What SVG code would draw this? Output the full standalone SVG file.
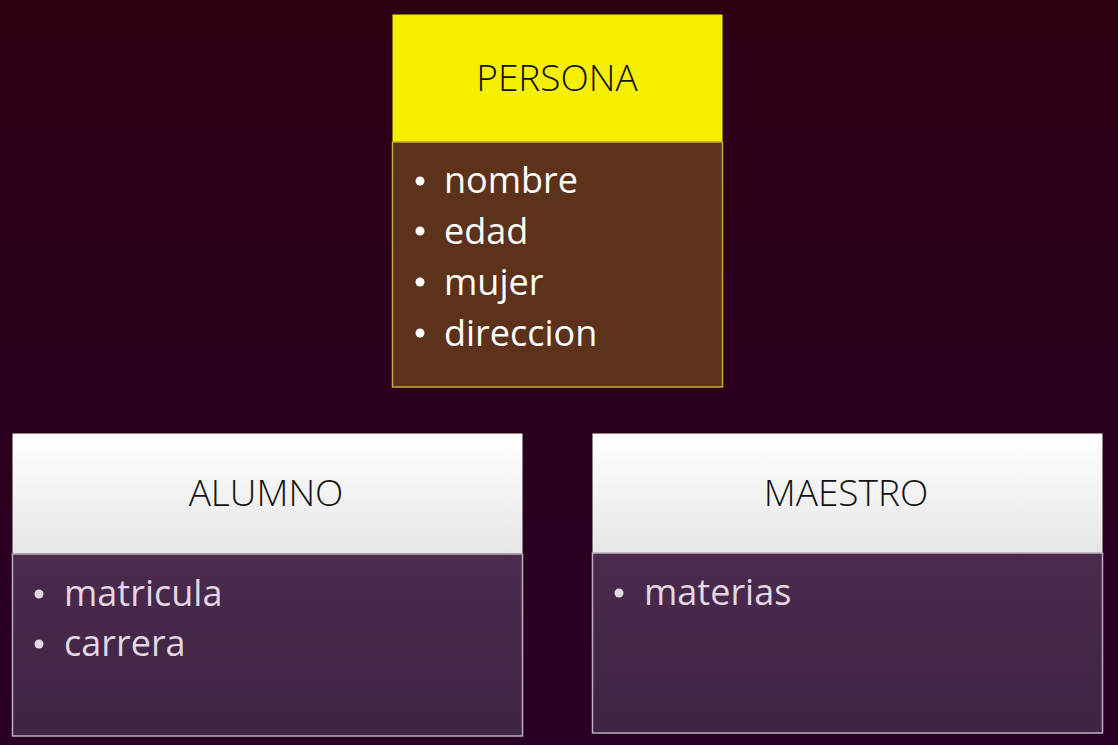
<svg xmlns="http://www.w3.org/2000/svg" width="1118" height="745" viewBox="0 0 1118 745">
<defs>
<linearGradient id="bg" x1="0" y1="0" x2="0" y2="1">
<stop offset="0" stop-color="#2c0012"/>
<stop offset="1" stop-color="#2a0026"/>
</linearGradient>
<linearGradient id="hdr" x1="0" y1="0" x2="0" y2="1">
<stop offset="0" stop-color="#ffffff"/>
<stop offset="1" stop-color="#e6e6e6"/>
</linearGradient>
<linearGradient id="body" x1="0" y1="0" x2="0" y2="1">
<stop offset="0" stop-color="#4b2a4d"/>
<stop offset="1" stop-color="#3f2444"/>
</linearGradient>
<style>
.title{font-family:"Open Sans","Noto Sans","Liberation Sans",sans-serif;font-weight:300;font-size:37px;fill:#111;text-anchor:middle}
.item{font-family:"Open Sans","Noto Sans","Liberation Sans",sans-serif;font-size:36px}
.pitem{fill:#ffffff}
.litem{fill:#e2d8e2}
.pbox{stroke:#c9a640;stroke-width:1.5}
.lbox{stroke:#bcaebc;stroke-width:1.5}
</style>
</defs>
<rect width="1118" height="745" fill="url(#bg)"/>
<g id="persona">
<rect x="392.5" y="14.5" width="330" height="128" fill="#f7ef00"/>
<rect x="392.5" y="142" width="330" height="245" fill="#5c321b" class="pbox"/>
<text class="title" x="557" y="91">PERSONA</text>
<g class="item pitem">
<circle cx="420" cy="181" r="4.5"/><text x="444" y="193">nombre</text>
<circle cx="420" cy="231" r="4.5"/><text x="444" y="244">edad</text>
<circle cx="420" cy="282" r="4.5"/><text x="444" y="295">mujer</text>
<circle cx="420" cy="333" r="4.5"/><text x="444" y="346">direccion</text>
</g>
</g>
<g id="alumno">
<rect x="12.5" y="433.5" width="510" height="120" fill="url(#hdr)"/>
<rect x="12.5" y="554" width="510" height="182" fill="url(#body)" class="lbox"/>
<text class="title" x="266" y="506">ALUMNO</text>
<g class="item litem">
<circle cx="39" cy="594" r="4.5"/><text x="64" y="606">matricula</text>
<circle cx="39" cy="644" r="4.5"/><text x="64" y="656">carrera</text>
</g>
</g>
<g id="maestro">
<rect x="592.5" y="433.5" width="510" height="120" fill="url(#hdr)"/>
<rect x="592.5" y="553" width="510" height="180" fill="url(#body)" class="lbox"/>
<text class="title" x="846" y="506">MAESTRO</text>
<g class="item litem">
<circle cx="619" cy="593" r="4.5"/><text x="644" y="605">materias</text>
</g>
</g>
<g id="connectors"></g>
</svg>
